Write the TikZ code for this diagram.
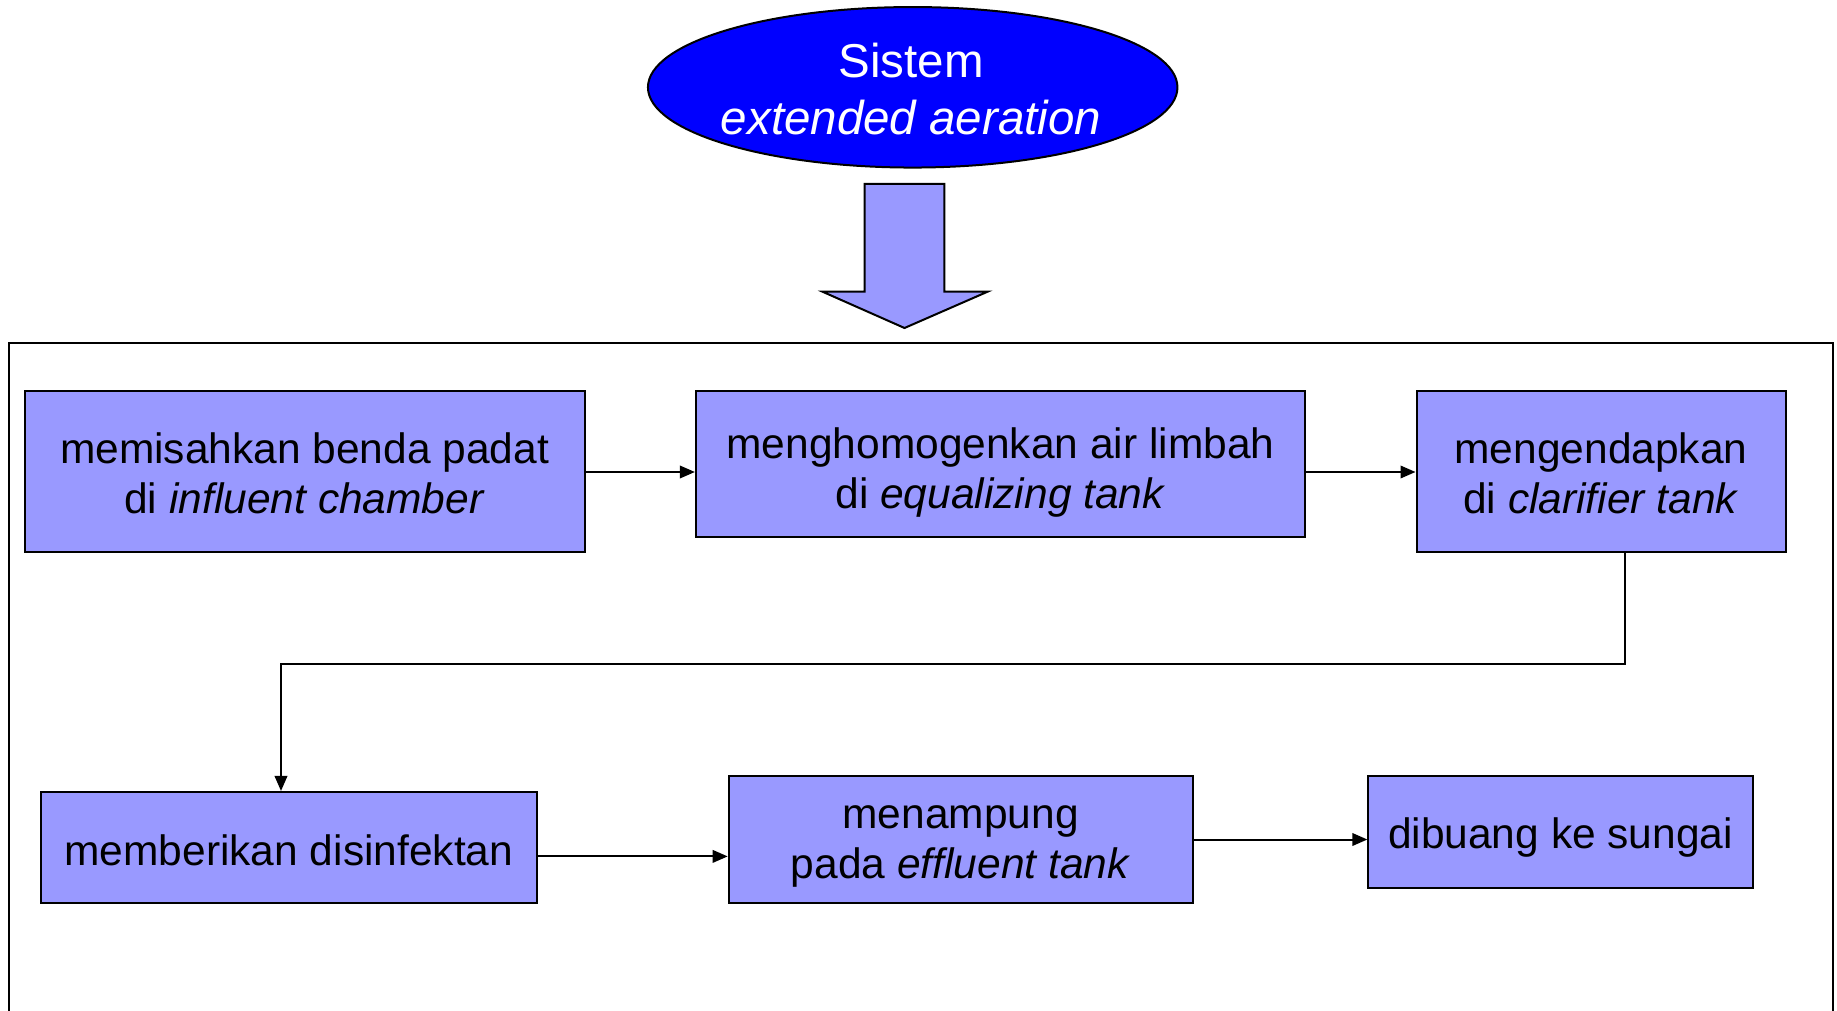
\documentclass[tikz,border=0pt]{standalone}
\usepackage{fontspec}
\setmainfont{Liberation Sans}
\usetikzlibrary{arrows.meta,shapes.geometric}
\definecolor{boxfill}{HTML}{9999FF}
\definecolor{ellfill}{HTML}{0000FF}
\begin{document}
\begin{tikzpicture}[x=0.4pt,y=-0.4pt, line width=0.8pt,
  proc/.style={draw=black, fill=boxfill, inner sep=0pt},
  ptext/.style={align=center, inner sep=0pt, font=\fontsize{17}{20}\selectfont},
  flow/.style={-{Triangle[length=6pt,width=5pt]}}]
\useasboundingbox (0,0) rectangle (1837,1011);
% outer frame (open at bottom)
\draw (8.5,1015) -- (8.5,343.3) -- (1832.5,343.3) -- (1832.5,1015);
% ellipse
\node[ellipse, draw=black, fill=ellfill, minimum width=211.8pt, minimum height=64.2pt, inner sep=0pt] (sys) at (912.7,87.3) {};
\node[align=center, text=white, font=\fontsize{19}{22.8}\selectfont] (systxt) at (911,89) {Sistem\\\textit{extended aeration}};
% block arrow
\draw[fill=boxfill] (864.6,183.9) -- (944.3,183.9) -- (944.3,291.7) -- (987.6,291.7)
  -- (904.5,328) -- (822.5,291.7) -- (864.6,291.7) -- cycle;
% process boxes
\node[proc, minimum width=224pt, minimum height=64.2pt] (b1) at (304.6,471.5) {};
\node[proc, minimum width=243.7pt, minimum height=58.1pt] (b2) at (1000.5,464) {};
\node[proc, minimum width=147.6pt, minimum height=64.2pt] (b3) at (1601,471.5) {};
\node[proc, minimum width=198.2pt, minimum height=44.5pt] (b4) at (288.8,847.6) {};
\node[proc, minimum width=185.6pt, minimum height=51.1pt] (b5) at (960.7,839.5) {};
\node[proc, minimum width=153.7pt, minimum height=45pt] (b6) at (1560.5,831.8) {};
% texts
\node[ptext] (t1) at ([yshift=-0.9pt]b1.center) {memisahkan benda padat\\di \textit{influent chamber}};
\node[ptext] (t2) at ([yshift=-3.3pt]b2.center) {menghomogenkan air limbah\\di \textit{equalizing tank}};
\node[ptext] (t3) at ([yshift=-0.9pt]b3.center) {mengendapkan\\di \textit{clarifier tank}};
\node[ptext] (t4) at ([yshift=-0.9pt]b4.center) {memberikan disinfektan};
\node[ptext] (t5) at ([yshift=-2.6pt]b5.center) {menampung\\pada \textit{effluent tank}};
\node[ptext] (t6) at ([yshift=-2.4pt]b6.center) {dibuang ke sungai};
% connectors
\coordinate (r1) at (0,472);
\draw[flow] (b1.east |- r1) -- (b2.west |- r1);
\draw[flow] (b2.east |- r1) -- (b3.west |- r1);
\coordinate (c1) at (1625,664);
\coordinate (c2) at (281,664);
\draw[flow] (b3.south -| c1) -- (c1) -- (c2) -- (c2 |- b4.north);
\coordinate (r2) at (0,856.4);
\draw[flow] (b4.east |- r2) -- (b5.west |- r2);
\draw[flow] (b5.east) -- (b6.west |- b5.east);
\end{tikzpicture}
\end{document}
